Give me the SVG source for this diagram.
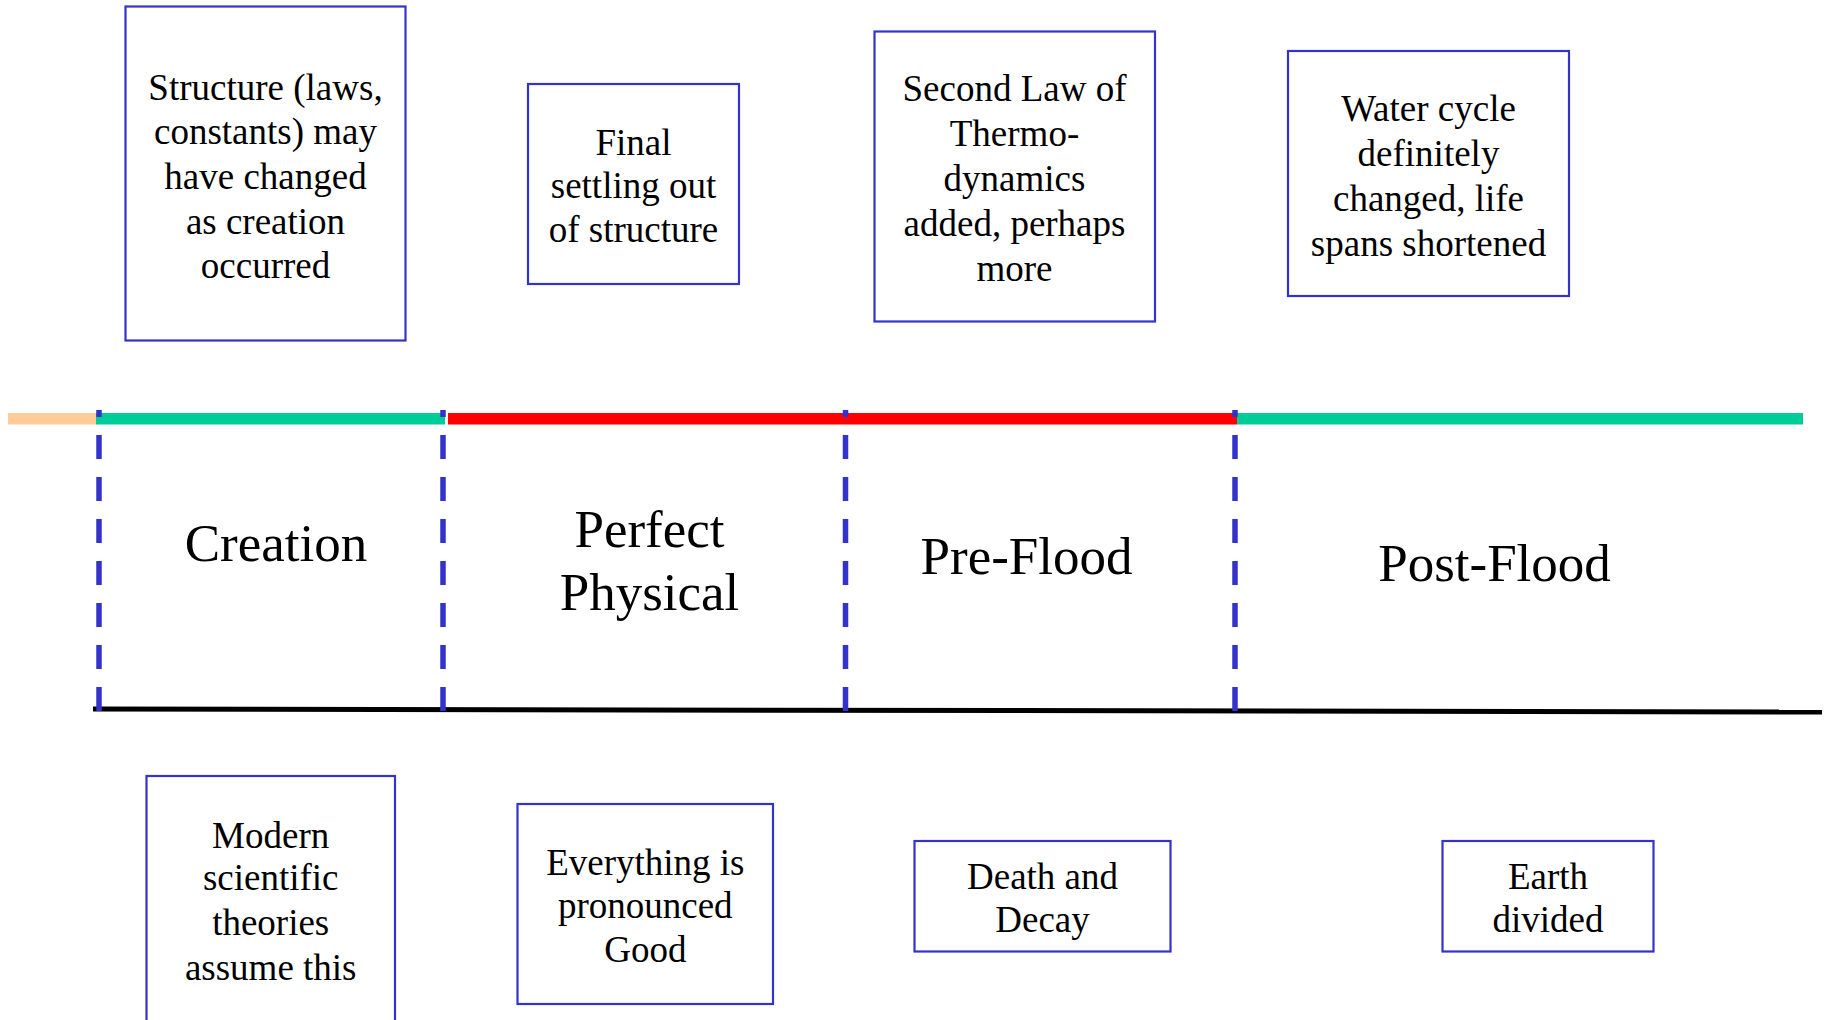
<svg xmlns="http://www.w3.org/2000/svg" width="1825" height="1020" viewBox="0 0 1825 1020">
<style>
.box{fill:#fff;stroke:#3333CC;stroke-width:2.2}
.t{font-family:"Liberation Serif","Times New Roman",serif;font-size:37px;fill:#000;text-anchor:middle}
.title{font-family:"Liberation Serif","Times New Roman",serif;font-size:53px;fill:#000;text-anchor:middle}
.dash{stroke:#3333CC;stroke-width:5.5;stroke-dasharray:24 18;stroke-dashoffset:17;fill:none}
</style>
<rect width="1825" height="1020" fill="#fff"/>
<g id="timeline">
<rect x="8" y="413" width="89" height="11.5" fill="#FFCC99"/>
<rect x="96" y="413" width="349" height="11.5" fill="#00CC99"/>
<rect x="448" y="413" width="789" height="11.5" fill="#FF0000"/>
<rect x="1237" y="413" width="566" height="11.5" fill="#00CC99"/>
<line x1="93" y1="709" x2="1822" y2="712" stroke="#000" stroke-width="5"/>
</g>
<g id="connectors">
<line class="dash" x1="99" y1="410" x2="99" y2="711"/>
<line class="dash" x1="443" y1="410" x2="443" y2="711"/>
<line class="dash" x1="845.5" y1="410" x2="845.5" y2="711"/>
<line class="dash" x1="1235" y1="410" x2="1235" y2="711"/>
</g>
<g id="title-creation"><text class="title" x="276" y="560.5">Creation</text></g>
<g id="title-perfect"><text class="title" x="649.5" y="547">Perfect</text><text class="title" x="649.5" y="610">Physical</text></g>
<g id="title-preflood"><text class="title" x="1026.5" y="574">Pre-Flood</text></g>
<g id="title-postflood"><text class="title" x="1494.5" y="581">Post-Flood</text></g>
<g id="box-structure">
<rect class="box" x="125.5" y="6.5" width="280" height="334"/>
<text class="t" x="265.5" y="99.5">Structure (laws,</text>
<text class="t" x="265.5" y="143.9">constants) may</text>
<text class="t" x="265.5" y="188.5">have changed</text>
<text class="t" x="265.5" y="233.5">as creation</text>
<text class="t" x="265.5" y="278">occurred</text>
</g>
<g id="box-final">
<rect class="box" x="528" y="84" width="211" height="200"/>
<text class="t" x="633.5" y="155">Final</text>
<text class="t" x="633.5" y="198">settling out</text>
<text class="t" x="633.5" y="241.5">of structure</text>
</g>
<g id="box-second-law">
<rect class="box" x="874.5" y="31.5" width="280.5" height="290"/>
<text class="t" x="1014.5" y="100.5">Second Law of</text>
<text class="t" x="1014.5" y="145.5">Thermo-</text>
<text class="t" x="1014.5" y="190.5">dynamics</text>
<text class="t" x="1014.5" y="235.5">added, perhaps</text>
<text class="t" x="1014.5" y="280.5">more</text>
</g>
<g id="box-water">
<rect class="box" x="1288" y="51" width="281" height="245"/>
<text class="t" x="1428.5" y="121">Water cycle</text>
<text class="t" x="1428.5" y="166">definitely</text>
<text class="t" x="1428.5" y="211">changed, life</text>
<text class="t" x="1428.5" y="256">spans shortened</text>
</g>
<g id="box-modern">
<rect class="box" x="146.5" y="776" width="248.5" height="260"/>
<text class="t" x="270.7" y="847.5">Modern</text>
<text class="t" x="270.7" y="890">scientific</text>
<text class="t" x="270.7" y="935">theories</text>
<text class="t" x="270.7" y="980">assume this</text>
</g>
<g id="box-good">
<rect class="box" x="517.5" y="804" width="255.5" height="200"/>
<text class="t" x="645.3" y="874.5">Everything is</text>
<text class="t" x="645.3" y="917.5">pronounced</text>
<text class="t" x="645.3" y="961.5">Good</text>
</g>
<g id="box-death">
<rect class="box" x="914.5" y="841" width="256" height="110.5"/>
<text class="t" x="1042.5" y="889">Death and</text>
<text class="t" x="1042.5" y="932">Decay</text>
</g>
<g id="box-earth">
<rect class="box" x="1442.5" y="841" width="211" height="110.5"/>
<text class="t" x="1548" y="889">Earth</text>
<text class="t" x="1548" y="932">divided</text>
</g>
</svg>
